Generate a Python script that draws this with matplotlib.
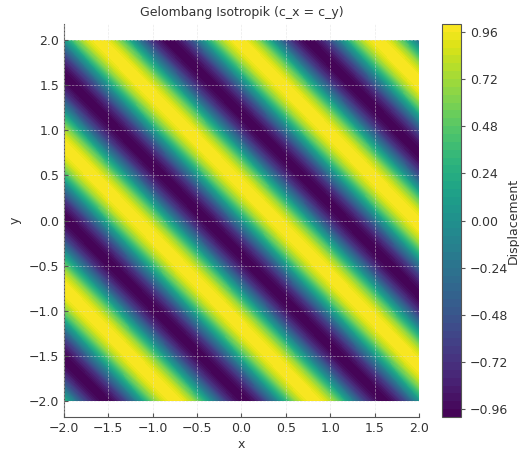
"""Isotropic plane wave snapshot (c_x = c_y) as a filled contour map."""

import matplotlib
matplotlib.use("Agg")
import matplotlib.pyplot as plt
import numpy as np

# ── Data ──────────────────────────────────────────────────────────────────────

x_limits = [-2.0, 2.0]
y_limits = [-2.0, 2.0]
n_points = 300
k_x = 4.0          # wavenumber along x
k_y = 4.0          # wavenumber along y (same speed -> isotropic)
phase = 0.0

x = np.linspace(x_limits[0], x_limits[1], n_points)
y = np.linspace(y_limits[0], y_limits[1], n_points)
X, Y = np.meshgrid(x, y)
Z = np.sin(k_x * X + k_y * Y + phase)

# ── Style ─────────────────────────────────────────────────────────────────────

TEXT = "#333333"
RC = {
    "font.size": 9,
    "text.color": TEXT,
    "axes.labelcolor": TEXT,
    "axes.edgecolor": "#555555",
    "xtick.color": "#555555",
    "ytick.color": "#555555",
    "xtick.labelcolor": TEXT,
    "ytick.labelcolor": TEXT,
    "xtick.direction": "in",
    "ytick.direction": "in",
    "axes.spines.top": False,
    "axes.spines.right": False,
}

with plt.rc_context(RC):
    fig = plt.figure(figsize=(5.19, 4.5), dpi=100)
    ax = fig.add_axes([0.1233, 0.0733, 0.684, 0.8734])
    cax = fig.add_axes([0.8516, 0.0733, 0.0366, 0.8734])

    cf = ax.contourf(X, Y, Z, levels=50, cmap="viridis")
    ax.set_xlim(x_limits)
    ax.set_ylim(-2.18, 2.18)
    ax.set_xticks(np.arange(-2.0, 2.01, 0.5))
    ax.set_yticks(np.arange(-2.0, 2.01, 0.5))
    ax.grid(True, color="#dddddd", linestyle="--", linewidth=0.5, alpha=0.6)
    ax.set_axisbelow(False)
    ax.tick_params(length=3, width=0.8)

    ax.set_title("Gelombang Isotropik (c_x = c_y)", fontsize=9, pad=6)
    ax.set_xlabel("x", labelpad=2)
    ax.set_ylabel("y", labelpad=5)

    cbar = fig.colorbar(cf, cax=cax)
    cbar.set_label("Displacement")
    cax.yaxis.set_label_coords(3.42, 0.5)
    cbar.ax.tick_params(direction="out", length=3, width=0.8)
    cbar.outline.set_edgecolor("#555555")

    fig.savefig("out.png", dpi=100)
    plt.close(fig)
